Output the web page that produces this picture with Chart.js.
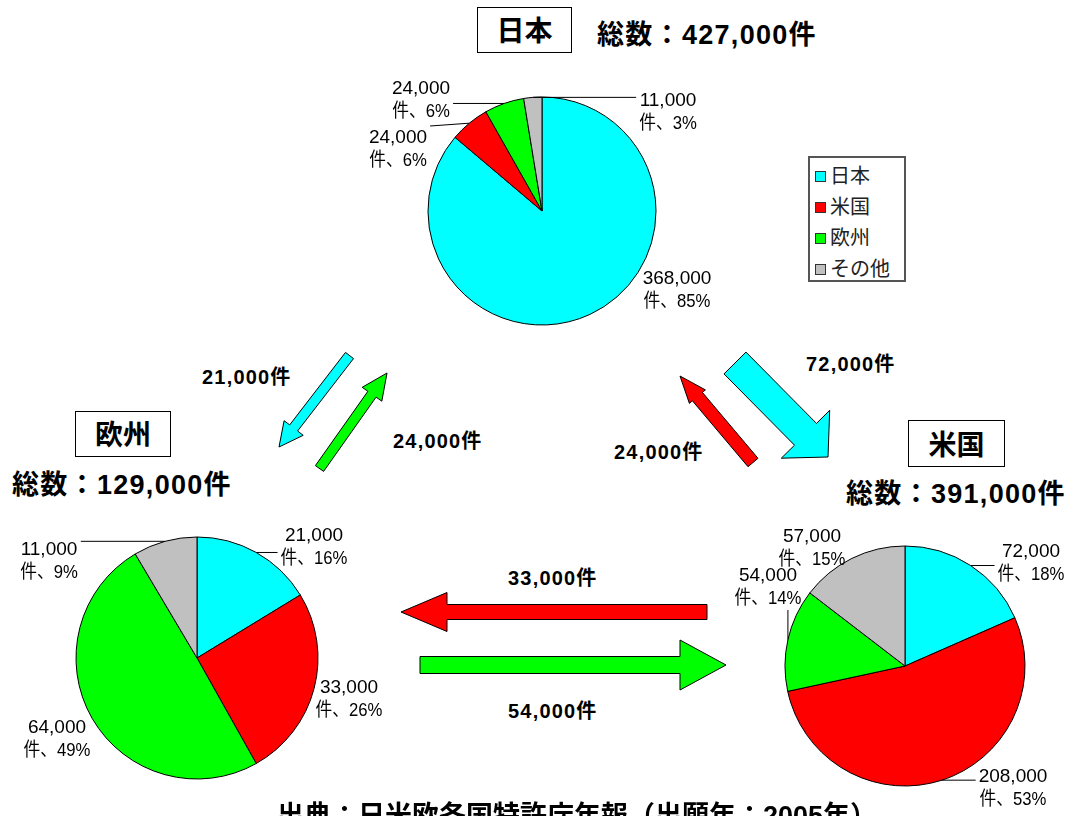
<!DOCTYPE html>
<html>
<head>
<meta charset="utf-8">
<script src="https://cdn.jsdelivr.net/npm/chart.js@4.4.0/dist/chart.umd.min.js"></script>
<style>
  html, body { margin: 0; padding: 0; background: #fff; overflow: hidden; }
  #stage { position: relative; width: 1082px; height: 816px; overflow: hidden;
    font-family: "Liberation Sans", "Noto Sans CJK JP", sans-serif; color: #000; }
  #arrows { position: absolute; left: 0; top: 0; }
  .pie { position: absolute; }
  .box { position: absolute; border: 1.5px solid #000; box-sizing: border-box;
    font-family: "Noto Sans CJK JP", sans-serif;
    font-size: 28px; font-weight: 700; text-align: center; }
  .txt { position: absolute; white-space: nowrap; font-weight: 700; }
  .total { font-size: 27px; letter-spacing: 1.3px; }
  .flow { font-size: 20px; letter-spacing: 1.2px; }
  #legend { position: absolute; left: 808px; top: 156px; width: 98px; height: 126px;
    border: 2px solid #555; box-sizing: border-box; }
  .item { position: absolute; left: 5px; height: 26px; line-height: 26px;
    font-family: "Noto Sans CJK JP", sans-serif;
    font-size: 20px; color: #222; white-space: nowrap; }
  .item span { display: inline-block; width: 9px; height: 9px; border: 1px solid #333;
    margin-right: 4px; vertical-align: 1px; }
</style>
</head>
<body>
<div id="stage">
  <svg id="arrows" width="1082" height="816"></svg>
  <div class="pie" id="wrapJapan"><canvas id="chartJapan"></canvas></div>
  <div class="pie" id="wrapEurope"><canvas id="chartEurope"></canvas></div>
  <div class="pie" id="wrapUs"><canvas id="chartUs"></canvas></div>
  <div id="legend"></div>
</div>
<script>
// カテゴリ(出願人の国籍)
const categories = ["日本", "米国", "欧州", "その他"];
const sliceColors = ["#00FFFF", "#FF0000", "#00FF00", "#C0C0C0"];

// 各国特許庁への出願件数(出願人国籍別)
const japanValues = [368000, 24000, 24000, 11000];
const japanPercent = [85, 6, 6, 3];
const usValues = [72000, 208000, 54000, 57000];
const usPercent = [18, 53, 14, 15];
const europeValues = [21000, 33000, 64000, 11000];
const europePercent = [16, 26, 49, 9];

// 総数
const regionNames = ["日本", "米国", "欧州"];
const regionTotals = [427000, 391000, 129000];

// 出願の流れ (from -> to)
const flowFrom = ["日本", "欧州", "日本", "米国", "米国", "欧州"];
const flowTo = ["欧州", "日本", "米国", "日本", "欧州", "米国"];
const flowValues = [21000, 24000, 72000, 24000, 33000, 54000];

const sourceText = "出典：日米欧各国特許庁年報（出願年：2005年）";

function fmt(n) {
  return n.toLocaleString("en-US");
}

// 円グラフの配置 (中心, 半径, ラベル位置)
const pieLayout = {
  Japan: { cx: 542, cy: 211, r: 114, w: 380, h: 280,
    labels: [[135, 79, false], [-144, -62, true], [-121, -111, true], [126, -99, true]] },
  Europe: { cx: 197, cy: 658, r: 121, w: 420, h: 280,
    labels: [[117, -111, true], [152, 41, false], [-140, 81, false], [-148, -97, true]] },
  Us: { cx: 905, cy: 666, r: 120, w: 350, h: 300,
    labels: [[126, -103, true], [108, 122, true], [-137, -79, true], [-93, -118, false]] },
};

// ラベル(件数・割合)とリーダー線を描くプラグイン
const outLabels = {
  id: "outLabels",
  afterDatasetsDraw(chart, args, opts) {
    const ctx = chart.ctx;
    const meta = chart.getDatasetMeta(0);
    const values = chart.data.datasets[0].data;
    ctx.save();
    ctx.font = '19px "Liberation Sans", "Noto Sans CJK JP", sans-serif';
    ctx.fillStyle = "#000";
    ctx.strokeStyle = "#000";
    ctx.lineWidth = 1;
    ctx.textAlign = "center";
    ctx.textBaseline = "middle";
    meta.data.forEach((arc, i) => {
      const p = arc.getProps(["x", "y", "startAngle", "endAngle", "outerRadius"], true);
      const mid = (p.startAngle + p.endAngle) / 2;
      const ex = p.x + Math.cos(mid) * p.outerRadius;
      const ey = p.y + Math.sin(mid) * p.outerRadius;
      const pos = opts.labels[i];
      const lx = p.x + pos[0];
      const ly = p.y + pos[1];
      const line1 = fmt(values[i]);
      const line2 = "件、" + opts.percent[i] + "%";
      ctx.fillText(line1, lx, ly - 11.5);
      // 2行目は少し詰めて描く
      ctx.save();
      ctx.translate(lx, ly + 11.5);
      ctx.scale(0.88, 1);
      ctx.fillText(line2, 0, 0);
      ctx.restore();
      if (pos[2]) {
        const hw = Math.max(ctx.measureText(line1).width, ctx.measureText(line2).width * 0.88) / 2 + 3;
        const hh = 23;
        const nx = Math.min(Math.max(ex, lx - hw), lx + hw);
        const ny = Math.min(Math.max(ey, ly - hh), ly + hh);
        ctx.beginPath();
        ctx.moveTo(nx, ny);
        ctx.lineTo(ex, ey);
        ctx.stroke();
      }
    });
    ctx.restore();
  },
};

function makePie(key, values, percent) {
  const lay = pieLayout[key];
  const wrap = document.getElementById("wrap" + key);
  wrap.style.left = (lay.cx - lay.w / 2) + "px";
  wrap.style.top = (lay.cy - lay.h / 2) + "px";
  wrap.style.width = lay.w + "px";
  wrap.style.height = lay.h + "px";
  return new Chart(document.getElementById("chart" + key), {
    type: "pie",
    data: {
      labels: categories,
      datasets: [{
        data: values,
        backgroundColor: sliceColors,
        borderColor: "#000",
        borderWidth: 1,
        hoverOffset: 0,
      }],
    },
    options: {
      responsive: true,
      maintainAspectRatio: false,
      animation: false,
      events: [],
      radius: lay.r,
      layout: { padding: 0 },
      plugins: {
        legend: { display: false },
        tooltip: { enabled: false },
        outLabels: { labels: lay.labels, percent: percent },
      },
    },
    plugins: [outLabels],
  });
}

makePie("Japan", japanValues, japanPercent);
makePie("Europe", europeValues, europePercent);
makePie("Us", usValues, usPercent);

// 矢印の形 (尾, 先端, 軸幅, 矢じり幅, 矢じり長さ)
const arrowShapes = [
  [349.5, 355.5, 279, 447, 10, 24, 24],
  [319.5, 468.5, 387, 373, 10, 24, 26],
  [735, 363, 828, 457, 31, 68, 32],
  [753, 462.5, 680, 376, 13, 21, 27],
  [707, 612, 401, 612, 15, 39, 46],
  [420, 665, 726, 665, 17, 50, 46],
];
// 件数ラベルの位置 (左端, 中心y)
const flowLabelPos = [[202, 377], [393, 441], [806, 364], [614, 452], [508, 578], [508, 711]];

const svg = document.getElementById("arrows");
const stage = document.getElementById("stage");
flowValues.forEach((v, i) => {
  const [x1, y1, x2, y2, sw, hw, hl] = arrowShapes[i];
  const len = Math.hypot(x2 - x1, y2 - y1);
  const ux = (x2 - x1) / len, uy = (y2 - y1) / len;
  const nx = -uy, ny = ux;
  const bx = x2 - ux * hl, by = y2 - uy * hl;
  const pts = [
    [x1 + nx * sw / 2, y1 + ny * sw / 2],
    [bx + nx * sw / 2, by + ny * sw / 2],
    [bx + nx * hw / 2, by + ny * hw / 2],
    [x2, y2],
    [bx - nx * hw / 2, by - ny * hw / 2],
    [bx - nx * sw / 2, by - ny * sw / 2],
    [x1 - nx * sw / 2, y1 - ny * sw / 2],
  ];
  const poly = document.createElementNS("http://www.w3.org/2000/svg", "polygon");
  poly.setAttribute("points", pts.map((p) => p[0].toFixed(1) + "," + p[1].toFixed(1)).join(" "));
  poly.setAttribute("fill", sliceColors[categories.indexOf(flowFrom[i])]);
  poly.setAttribute("stroke", "#000");
  poly.setAttribute("stroke-width", "1");
  svg.appendChild(poly);

  const t = document.createElement("div");
  t.className = "txt flow";
  t.textContent = fmt(v) + "件";
  t.style.left = flowLabelPos[i][0] + "px";
  t.style.top = (flowLabelPos[i][1] - 15) + "px";
  t.style.lineHeight = "30px";
  stage.appendChild(t);
});

// 国名の枠と総数
const boxPos = [[477, 7, 95, 46], [908, 420, 97, 47], [75, 411, 96, 46]];
const totalPos = [[597, 35], [846, 494], [12, 485]];
regionNames.forEach((name, i) => {
  const b = document.createElement("div");
  b.className = "box";
  b.textContent = name;
  b.style.left = boxPos[i][0] + "px";
  b.style.top = boxPos[i][1] + "px";
  b.style.width = boxPos[i][2] + "px";
  b.style.height = boxPos[i][3] + "px";
  b.style.lineHeight = (boxPos[i][3] - 3) + "px";
  stage.appendChild(b);

  const t = document.createElement("div");
  t.className = "txt total";
  t.textContent = "総数：" + fmt(regionTotals[i]) + "件";
  t.style.left = totalPos[i][0] + "px";
  t.style.top = (totalPos[i][1] - 20) + "px";
  t.style.lineHeight = "40px";
  stage.appendChild(t);
});

// 凡例
const legend = document.getElementById("legend");
categories.forEach((c, i) => {
  const it = document.createElement("div");
  it.className = "item";
  it.style.top = (4 + i * 31) + "px";
  it.innerHTML = '<span style="background:' + sliceColors[i] + '"></span>' + c;
  legend.appendChild(it);
});

// 出典
const src = document.createElement("div");
src.className = "txt";
src.textContent = sourceText;
src.style.fontSize = "27px";
src.style.left = "277px";
src.style.top = "799px";
src.style.lineHeight = "34px";
stage.appendChild(src);
</script>
</body>
</html>
